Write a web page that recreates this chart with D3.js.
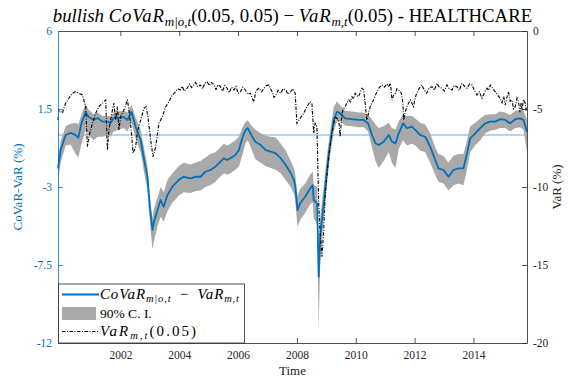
<!DOCTYPE html>
<html lang="en">
<meta charset="utf-8">
<title>bullish CoVaR - HEALTHCARE</title>
<style>
    body { margin: 0; background: white; }
    svg text { font-family: "Times New Roman", "Liberation Serif", "DejaVu Serif", serif; }
</style>
<body>
<svg id="canvas"></svg>
<script src="https://cdn.jsdelivr.net/npm/d3@7"></script>
<script>

    ////////////////////// Data ///////////////////////
    // CoVaR - VaR (left axis, %) with its 90% band, time in decimal years
    var dates = [
        1999.88, 1999.97, 2000.14, 2000.31, 2000.48, 2000.57, 2000.68, 2000.82, 2000.92, 2001.09,
        2001.23, 2001.39, 2001.56, 2001.67, 2001.77, 2001.94, 2002.11, 2002.24, 2002.38, 2002.52,
        2002.69, 2002.79, 2002.92, 2003.00, 2003.09, 2003.13, 2003.26, 2003.37, 2003.47, 2003.60,
        2003.77, 2003.88, 2003.98, 2004.15, 2004.38, 2004.55, 2004.72, 2004.89, 2005.06, 2005.23,
        2005.40, 2005.52, 2005.63, 2005.74, 2005.91, 2006.03, 2006.14, 2006.25, 2006.33, 2006.45,
        2006.59, 2006.77, 2006.94, 2007.11, 2007.28, 2007.45, 2007.62, 2007.79, 2007.90, 2007.94,
        2008.02, 2008.11, 2008.28, 2008.45, 2008.54, 2008.57, 2008.69, 2008.74, 2008.79, 2008.91,
        2009.02, 2009.13, 2009.25, 2009.36, 2009.47, 2009.64, 2009.87, 2010.10, 2010.27, 2010.42,
        2010.55, 2010.67, 2010.78, 2010.95, 2011.12, 2011.23, 2011.35, 2011.46, 2011.61, 2011.74,
        2011.91, 2012.02, 2012.19, 2012.36, 2012.53, 2012.70, 2012.81, 2012.98, 2013.15, 2013.32,
        2013.49, 2013.66, 2013.78, 2013.89, 2014.06, 2014.23, 2014.40, 2014.57, 2014.74, 2014.91,
        2015.08, 2015.25, 2015.42, 2015.59, 2015.70, 2015.82];
    var covarMinusVar = [
        -1.92, -0.87,  0.00,  0.12,  0.00, -0.17,  0.69,  1.33,  1.04,  0.87,
         0.98,  0.77,  0.77,  0.69,  0.98,  0.98,  1.04,  0.87,  1.34,  0.46,
        -0.29, -1.27, -2.41, -4.14, -5.48, -5.08, -4.33, -3.75, -4.14, -3.46,
        -2.98, -2.77, -2.60, -2.41, -2.50, -2.41, -2.41, -2.12, -2.02, -1.83,
        -1.54, -1.34, -1.44, -1.34, -1.15, -0.87, -0.19,  0.29,  0.39,  0.00,
        -0.39, -0.58, -0.87, -0.96, -1.06, -1.34, -1.73, -2.21, -2.60, -2.89,
        -4.33, -3.94, -3.56, -3.08, -2.89, -3.75, -3.94, -8.18, -5.87, -3.94,
        -2.02, -0.48,  0.87,  1.34,  1.25,  0.96,  0.91,  0.87,  0.87,  0.67,
         0.00, -0.48, -0.58, -0.39,  0.00, -0.39, -0.48,  0.10,  0.67,  0.39,
         0.48,  0.29,  0.00, -0.10, -0.67, -1.44, -1.92, -2.02, -2.41, -2.02,
        -1.92, -1.92, -1.06, -0.19,  0.10,  0.39,  0.67,  0.77,  0.77,  0.91,
         0.87,  0.67,  0.91,  0.96,  0.87,  0.19];
    var ciUpper = [
        -1.25, -0.35,  0.50,  0.65,  0.70,  0.60,  1.20,  1.80,  1.45,  1.20,
         1.30,  1.10,  1.10,  1.05,  1.30,  1.35,  1.40,  1.30,  1.75,  1.00,
         0.30, -0.60, -1.80, -3.50, -4.80, -4.30, -3.60, -3.00, -3.30, -2.60,
        -2.20, -2.00, -1.80, -1.60, -1.70, -1.60, -1.50, -1.30, -1.10, -1.00,
        -0.70, -0.50, -0.60, -0.50, -0.30, -0.10,  0.40,  0.75,  0.85,  0.55,
         0.30,  0.10, -0.05, -0.10, -0.15, -0.50, -0.90, -1.50, -1.90, -2.20,
        -3.50, -3.10, -2.80, -2.30, -2.10, -2.90, -3.00, -7.00, -4.80, -3.00,
        -1.20,  0.20,  1.60,  1.95,  1.70,  1.40,  1.35,  1.30,  1.30,  1.15,
         0.90,  0.60,  0.40,  0.50,  0.70,  0.40,  0.30,  0.80,  1.20,  1.10,
         1.10,  0.95,  0.70,  0.60,  0.10, -0.70, -1.10, -1.20, -1.60, -1.20,
        -1.10, -1.10, -0.30,  0.50,  0.70,  0.95,  1.15,  1.20,  1.20,  1.35,
         1.30,  1.15,  1.40,  1.45,  1.40,  0.90];
    var ciLower = [
        -2.65, -1.60, -0.60, -0.55, -1.10, -1.30, -0.50,  0.30,  0.00, -0.30,
        -0.10, -0.10,  0.00, -0.10,  0.20,  0.30,  0.40,  0.20,  0.70, -0.20,
        -1.00, -2.00, -3.20, -4.90, -6.60, -6.20, -5.30, -4.70, -5.00, -4.40,
        -3.90, -3.70, -3.50, -3.30, -3.35, -3.25, -3.20, -3.00, -2.90, -2.70,
        -2.40, -2.20, -2.30, -2.20, -2.00, -1.80, -1.20, -0.50, -0.30, -0.80,
        -1.40, -1.60, -1.80, -1.90, -2.00, -2.20, -2.60, -3.00, -3.40, -3.70,
        -5.30, -4.90, -4.50, -4.00, -3.90, -4.80, -5.20, -11.25, -7.50, -4.80,
        -2.80, -1.20,  0.20,  0.80,  0.80,  0.55,  0.50,  0.45,  0.45,  0.20,
        -0.70, -1.50, -1.90, -1.50, -1.00, -1.60, -1.90, -0.80, -0.30, -0.60,
        -0.50, -0.60, -0.90, -1.00, -1.60, -2.30, -2.70, -2.80, -3.20, -2.90,
        -2.80, -2.90, -2.00, -1.00, -0.60, -0.30,  0.10,  0.25,  0.30,  0.40,
         0.40,  0.20,  0.40,  0.45,  0.30, -1.00];

    // VaR (right axis, %)
    var varDates = [
        1999.88, 1999.91, 2000.03, 2000.14, 2000.25, 2000.37, 2000.48, 2000.59, 2000.71, 2000.82,
        2000.88, 2000.93, 2001.05, 2001.16, 2001.27, 2001.39, 2001.50, 2001.56, 2001.61, 2001.73,
        2001.78, 2001.84, 2001.90, 2001.95, 2002.01, 2002.12, 2002.24, 2002.29, 2002.38, 2002.43,
        2002.52, 2002.58, 2002.69, 2002.80, 2002.88, 2002.95, 2003.03, 2003.11, 2003.20, 2003.31,
        2003.43, 2003.54, 2003.65, 2003.77, 2003.88, 2003.95, 2004.04, 2004.10, 2004.17, 2004.27,
        2004.35, 2004.42, 2004.49, 2004.56, 2004.63, 2004.72, 2004.80, 2004.87, 2004.95, 2005.02,
        2005.10, 2005.18, 2005.25, 2005.32, 2005.40, 2005.47, 2005.55, 2005.63, 2005.70, 2005.78,
        2005.86, 2005.93, 2006.00, 2006.08, 2006.16, 2006.25, 2006.33, 2006.42, 2006.48, 2006.54,
        2006.60, 2006.66, 2006.71, 2006.80, 2006.88, 2006.96, 2007.05, 2007.10, 2007.16, 2007.22,
        2007.28, 2007.36, 2007.45, 2007.53, 2007.62, 2007.70, 2007.79, 2007.87, 2007.94, 2008.00,
        2008.11, 2008.23, 2008.34, 2008.45, 2008.51, 2008.57, 2008.62, 2008.68, 2008.74, 2008.79,
        2008.85, 2008.91, 2008.96, 2009.08, 2009.19, 2009.30, 2009.42, 2009.47, 2009.53, 2009.58,
        2009.64, 2009.70, 2009.76, 2009.82, 2009.87, 2009.93, 2009.98, 2010.04, 2010.10, 2010.16,
        2010.21, 2010.27, 2010.33, 2010.38, 2010.46, 2010.50, 2010.55, 2010.61, 2010.67, 2010.72,
        2010.78, 2010.84, 2010.89, 2010.97, 2011.06, 2011.12, 2011.18, 2011.23, 2011.29, 2011.35,
        2011.40, 2011.46, 2011.55, 2011.60, 2011.63, 2011.68, 2011.74, 2011.80, 2011.86, 2011.96,
        2012.02, 2012.07, 2012.15, 2012.24, 2012.32, 2012.41, 2012.50, 2012.59, 2012.67, 2012.76,
        2012.84, 2012.93, 2013.01, 2013.10, 2013.18, 2013.27, 2013.35, 2013.44, 2013.52, 2013.61,
        2013.70, 2013.78, 2013.87, 2013.95, 2014.03, 2014.12, 2014.20, 2014.29, 2014.37, 2014.46,
        2014.52, 2014.57, 2014.66, 2014.74, 2014.82, 2014.91, 2014.97, 2015.03, 2015.08, 2015.13,
        2015.19, 2015.25, 2015.31, 2015.36, 2015.42, 2015.48, 2015.53, 2015.58, 2015.62, 2015.65,
        2015.70, 2015.76, 2015.79, 2015.82];
    var varValues = [
        -5.71, -5.06, -5.26, -4.62, -4.31, -3.99, -3.89, -3.99, -4.10, -4.85,
        -7.42, -6.78, -5.92, -5.28, -4.85, -4.63, -4.42, -7.63, -6.35, -5.06,
        -4.63, -5.71, -4.85, -6.35, -5.49, -5.06, -4.42, -5.06, -6.56, -7.84,
        -7.42, -6.46, -5.71, -4.96, -4.85, -5.71, -6.99, -8.06, -7.42, -5.92,
        -5.49, -4.85, -4.53, -4.10, -3.89, -3.70, -3.78, -3.55, -3.85, -3.67,
        -3.40, -3.62, -3.46, -3.30, -3.58, -3.46, -3.70, -3.35, -3.25, -3.50,
        -3.30, -3.46, -3.75, -3.45, -3.57, -3.85, -3.50, -3.67, -3.95, -3.60,
        -3.78, -3.55, -4.00, -3.89, -3.60, -3.78, -4.05, -3.99, -4.30, -4.53,
        -3.90, -3.75, -3.67, -3.90, -3.67, -3.50, -3.46, -3.70, -3.89, -4.25,
        -4.10, -3.80, -3.99, -3.70, -3.78, -4.05, -3.89, -3.70, -3.99, -5.92,
        -5.60, -5.28, -4.85, -4.53, -4.63, -6.56, -5.92, -6.13, -11.04, -12.97,
        -14.47, -12.76, -10.62, -8.06, -6.56, -5.49, -5.71, -6.78, -5.28, -5.00,
        -4.85, -4.60, -4.42, -4.55, -4.21, -4.35, -3.99, -4.15, -4.21, -3.90,
        -3.67, -3.78, -4.85, -5.71, -5.06, -4.80, -4.63, -4.40, -4.10, -3.90,
        -3.67, -3.55, -3.46, -3.60, -3.40, -3.55, -3.35, -4.42, -4.10, -3.99,
        -3.70, -3.78, -3.99, -4.60, -5.71, -5.20, -4.85, -4.60, -4.42, -4.85,
        -4.30, -3.99, -3.70, -3.46, -3.75, -3.99, -3.65, -3.57, -3.80, -3.35,
        -3.60, -3.67, -3.85, -3.46, -3.70, -3.78, -3.50, -3.57, -3.80, -3.35,
        -3.55, -3.67, -3.40, -3.46, -3.80, -4.10, -3.90, -4.31, -3.95, -3.67,
        -3.80, -3.46, -3.70, -3.89, -4.10, -4.31, -4.60, -4.20, -4.74, -4.30,
        -3.89, -4.50, -4.42, -5.00, -4.85, -4.30, -4.53, -5.20, -4.60, -5.06,
        -4.40, -4.63, -5.10, -4.85];

    // ticks
    var yearTicks  = [2002, 2004, 2006, 2008, 2010, 2012, 2014];
    var leftTicks  = [6, 1.5, -3, -7.5, -12];
    var rightTicks = [0, -5, -10, -15, -20];
    ///////////////////////////////////////////////////

    ///////// Position and Dimension Variables ////////
    var dimensions = [568, 378];
    var plot_L     = 58;
    var plot_R     = 527;
    var plot_T     = 31;
    var plot_B     = 343;
    var tick_len   = 5;
    ///////////////////////////////////////////////////

    ///////////////// Style Variables /////////////////
    var serif      = '"Times New Roman", "Liberation Serif", "DejaVu Serif", serif';
    var blue       = '#0072bd';
    var ax_color   = '#262626';
    var band_color = '#a9a9a9';
    var zero_color = '#4796d2';
    var tick_font  = 11.5;
    var label_font = 13;
    var title_font = 18.8;
    var leg_font   = 15;
    var math_space = 0.8;
    ///////////////////////////////////////////////////

    //////////////////// BG layer /////////////////////
    var canvas = d3.select("#canvas")
        .attr('width',  dimensions[0])
        .attr('height', dimensions[1])
        .attr('font-family', serif)
        .style('background-color', 'white');
    ///////////////////////////////////////////////////

    ////////////////////// scales /////////////////////
    var x  = d3.scaleLinear().domain([1999.88, 2015.82]).range([plot_L, plot_R]);
    var yL = d3.scaleLinear().domain([-12, 6]).range([plot_B, plot_T]);
    var yR = d3.scaleLinear().domain([-20, 0]).range([plot_B, plot_T]);
    ///////////////////////////////////////////////////

    //////////////////// zero line ////////////////////
    canvas.append("line")
        .attr('x1', plot_L)
        .attr('x2', plot_R)
        .attr('y1', yL(0))
        .attr('y2', yL(0))
        .attr('stroke', zero_color)
        .attr('stroke-width', 0.8);
    ///////////////////////////////////////////////////

    ///////////////////// CI band /////////////////////
    var band = d3.area()
        .x((d, i) => x(dates[i]))
        .y0((d, i) => yL(ciLower[i]))
        .y1(d => yL(d));
    canvas.append("path")
        .datum(ciUpper)
        .attr('d', band)
        .attr('fill', band_color);
    ///////////////////////////////////////////////////

    //////////////////// CoVaR line ///////////////////
    var covarLine = d3.line()
        .x((d, i) => x(dates[i]))
        .y(d => yL(d));
    canvas.append("path")
        .datum(covarMinusVar)
        .attr('d', covarLine)
        .attr('fill', 'none')
        .attr('stroke', blue)
        .attr('stroke-width', 1.8)
        .attr('stroke-linejoin', 'round');
    ///////////////////////////////////////////////////

    ///////////////////// VaR line ////////////////////
    var varLine = d3.line()
        .x((d, i) => x(varDates[i]))
        .y(d => yR(d));
    canvas.append("path")
        .datum(varValues)
        .attr('d', varLine)
        .attr('fill', 'none')
        .attr('stroke', 'black')
        .attr('stroke-width', 1.1)
        .attr('stroke-dasharray', '3.5,1.5,1,1.5');
    ///////////////////////////////////////////////////

    /////////////////////// axes //////////////////////
    var ax_bot = canvas.append("g")
        .attr('transform', 'translate(0,' + plot_B + ')')
        .call(d3.axisBottom(x).tickValues(yearTicks).tickFormat(d3.format("d"))
              .tickSizeInner(-tick_len).tickSizeOuter(0).tickPadding(8));
    var ax_top = canvas.append("g")
        .attr('transform', 'translate(0,' + plot_T + ')')
        .call(d3.axisTop(x).tickValues(yearTicks).tickFormat("")
              .tickSizeInner(-tick_len).tickSizeOuter(0));
    var ax_left = canvas.append("g")
        .attr('transform', 'translate(' + plot_L + ',0)')
        .call(d3.axisLeft(yL).tickValues(leftTicks).tickFormat(d => String(d))
              .tickSizeInner(-tick_len).tickSizeOuter(0).tickPadding(6));
    var ax_right = canvas.append("g")
        .attr('transform', 'translate(' + plot_R + ',0)')
        .call(d3.axisRight(yR).tickValues(rightTicks).tickFormat(d => String(d))
              .tickSizeInner(-tick_len).tickSizeOuter(0).tickPadding(6));

    [ax_bot, ax_top, ax_right].forEach(function (g) {
        g.select(".domain").attr('stroke', ax_color).attr('stroke-width', 0.8);
        g.selectAll(".tick line").attr('stroke', ax_color).attr('stroke-width', 0.8);
        g.selectAll(".tick text").attr('fill', ax_color);
    });
    ax_left.select(".domain").attr('stroke', blue).attr('stroke-width', 0.8);
    ax_left.selectAll(".tick line").attr('stroke', blue).attr('stroke-width', 0.8);
    ax_left.selectAll(".tick text").attr('fill', blue);
    canvas.selectAll("g").attr('font-family', serif);
    canvas.selectAll(".tick text")
        .attr('font-size', tick_font);
    ///////////////////////////////////////////////////

    ////////////////////// labels /////////////////////
    canvas.append("text")
        .attr('x', (plot_L + plot_R) / 2)
        .attr('y', 375)
        .attr('text-anchor', 'middle')
        .attr('font-size', label_font)
        .attr('fill', ax_color)
        .text("Time");
    canvas.append("text")
        .attr('transform', 'translate(22,' + (plot_T + plot_B) / 2 + ') rotate(-90)')
        .attr('text-anchor', 'middle')
        .attr('font-size', label_font)
        .attr('fill', blue)
        .text("CoVaR-VaR (%)");
    canvas.append("text")
        .attr('transform', 'translate(561,' + (plot_T + plot_B) / 2 + ') rotate(-90)')
        .attr('text-anchor', 'middle')
        .attr('font-size', label_font)
        .attr('fill', ax_color)
        .text("VaR (%)");
    ///////////////////////////////////////////////////

    /////////////////////// title /////////////////////
    var title = canvas.append("text")
        .attr('x', (plot_L + plot_R) / 2)
        .attr('y', 22)
        .attr('text-anchor', 'middle')
        .attr('font-size', title_font)
        .attr('fill', 'black');
    title.append("tspan").attr('font-style', 'italic').text("bullish ");
    title.append("tspan").attr('font-style', 'italic').attr('letter-spacing', math_space).text("CoVaR");
    title.append("tspan").attr('font-style', 'italic').attr('font-size', 13).attr('dy', 4).text("m|o,t");
    title.append("tspan").attr('dy', -4).text("(0.05, 0.05) \u2212 ");
    title.append("tspan").attr('font-style', 'italic').attr('letter-spacing', math_space).text("VaR");
    title.append("tspan").attr('font-style', 'italic').attr('font-size', 13).attr('dy', 4).text("m,t");
    title.append("tspan").attr('dy', -4).text("(0.05) - HEALTHCARE");
    ///////////////////////////////////////////////////

    ////////////////////// legend /////////////////////
    var leg_x = plot_L + 0.5;
    var leg_y = 284;
    var legend = canvas.append("g");
    legend.append("rect")
        .attr('x', leg_x)
        .attr('y', leg_y)
        .attr('width',  186)
        .attr('height', plot_B - leg_y)
        .attr('fill', 'white')
        .attr('stroke', ax_color)
        .attr('stroke-width', 0.8);
    legend.append("line")
        .attr('x1', 62).attr('x2', 99)
        .attr('y1', 294.5).attr('y2', 294.5)
        .attr('stroke', blue)
        .attr('stroke-width', 1.8);
    legend.append("rect")
        .attr('x', 62).attr('y', 307)
        .attr('width', 34).attr('height', 13)
        .attr('fill', band_color);
    legend.append("line")
        .attr('x1', 62).attr('x2', 99)
        .attr('y1', 331.5).attr('y2', 331.5)
        .attr('stroke', 'black')
        .attr('stroke-width', 1.1)
        .attr('stroke-dasharray', '3.5,1.5,1,1.5');

    var leg1 = legend.append("text")
        .attr('x', 100).attr('y', 299)
        .attr('font-size', leg_font)
        .attr('textLength', 139)
        .attr('lengthAdjust', 'spacing');
    leg1.append("tspan").attr('font-style', 'italic').text("CoVaR");
    leg1.append("tspan").attr('font-style', 'italic').attr('font-size', 10.5).attr('dy', 3).text("m|o,t");
    leg1.append("tspan").attr('dy', -3).text("\u2002\u2212\u2002");
    leg1.append("tspan").attr('font-style', 'italic').text("VaR");
    leg1.append("tspan").attr('font-style', 'italic').attr('font-size', 10.5).attr('dy', 3).text("m,t");

    legend.append("text")
        .attr('x', 100).attr('y', 318)
        .attr('font-size', 13.5)
        .text("90% C. I.");

    var leg3 = legend.append("text")
        .attr('x', 100).attr('y', 336)
        .attr('font-size', leg_font)
        .attr('textLength', 96)
        .attr('lengthAdjust', 'spacing');
    leg3.append("tspan").attr('font-style', 'italic').text("VaR");
    leg3.append("tspan").attr('font-style', 'italic').attr('font-size', 10.5).attr('dy', 3).text("m,t");
    leg3.append("tspan").attr('dy', -3).text("(0.05)");
    ///////////////////////////////////////////////////

</script>
</body>
</html>
